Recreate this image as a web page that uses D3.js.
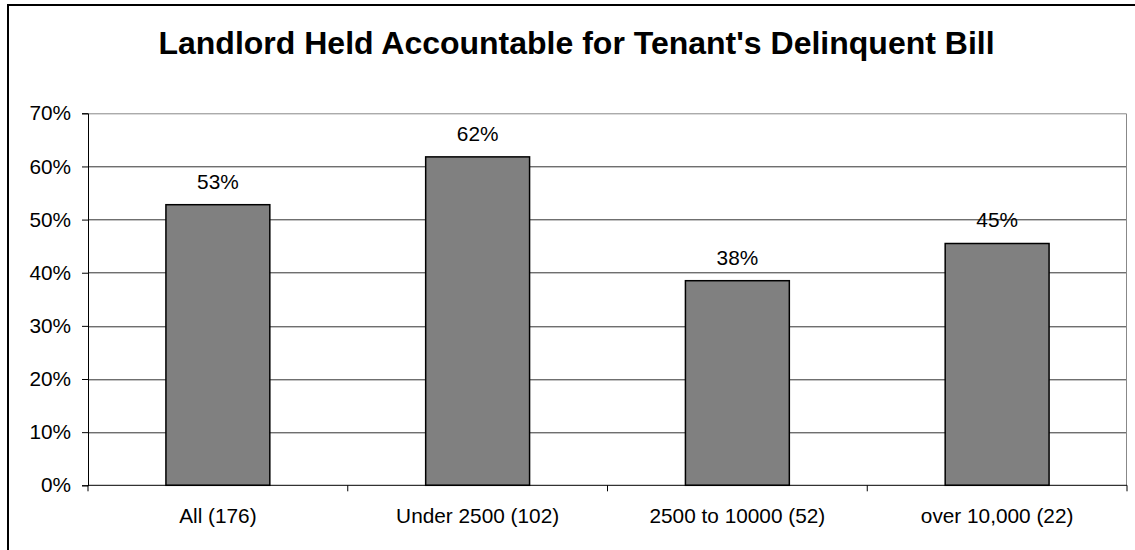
<!DOCTYPE html>
<html>
<head>
<meta charset="utf-8">
<script src="https://cdn.jsdelivr.net/npm/d3@7"></script>
<style>
  body { margin: 0; background: #fff; }
  text { font-family: Arial, "Liberation Sans", sans-serif; }
</style>
</head>
<body>
<div id="chart"></div>
<script>
// chart data
const categories = ["All (176)", "Under 2500 (102)", "2500 to 10000 (52)", "over 10,000 (22)"];
const values = [0.528, 0.618, 0.385, 0.455];
const barLabels = ["53%", "62%", "38%", "45%"];
const yTicks = [0, 0.1, 0.2, 0.3, 0.4, 0.5, 0.6, 0.7];
const title = "Landlord Held Accountable for Tenant's Delinquent Bill";

const W = 1135, H = 550;
const margin = {top: 113.3, right: 8, bottom: 64.7, left: 88};
const width = W - margin.left - margin.right;
const height = H - margin.top - margin.bottom;
const fs = 20.8;

const svg = d3.select("#chart")
  .append("svg")
    .attr("width", W)
    .attr("height", H);

// outer frame (right/bottom edges fall outside the picture)
svg.append("rect")
  .attr("x", 8).attr("y", 5)
  .attr("width", W).attr("height", H)
  .attr("fill", "none")
  .attr("stroke", "#000")
  .attr("stroke-width", 2);

svg.append("text")
  .attr("x", 576.5)
  .attr("y", 54)
  .attr("text-anchor", "middle")
  .attr("font-size", 32)
  .attr("font-weight", "bold")
  .text(title);

const g = svg.append("g")
  .attr("transform", `translate(${margin.left},${margin.top})`);

const x = d3.scaleBand()
  .domain(categories)
  .range([0, width])
  .paddingInner(0.6)
  .paddingOuter(0.3);

const xCat = d3.scaleBand()
  .domain(categories)
  .range([0, width])
  .padding(0);

const y = d3.scaleLinear()
  .domain([0, 0.7])
  .range([height, 0]);

// gridlines
g.selectAll(".grid")
  .data(yTicks.slice(1, -1))
  .enter()
  .append("line")
    .attr("x1", 0).attr("x2", width)
    .attr("y1", d => Math.round(y(d)) + 0.5)
    .attr("y2", d => Math.round(y(d)) + 0.5)
    .attr("stroke", "#333");

// plot border top/right
g.append("path")
  .attr("d", `M0,${Math.round(y(0.7)) + 0.5}H${width - 0.5}V${height}`)
  .attr("fill", "none")
  .attr("stroke", "#888");

// bars
g.selectAll(".bar")
  .data(values)
  .enter()
  .append("rect")
    .attr("x", (d, i) => x(categories[i]))
    .attr("y", d => y(d))
    .attr("width", x.bandwidth())
    .attr("height", d => height - y(d))
    .attr("fill", "#808080")
    .attr("stroke", "#000")
    .attr("stroke-width", 1.5);

g.selectAll(".lbl")
  .data(values)
  .enter()
  .append("text")
    .attr("x", (d, i) => x(categories[i]) + x.bandwidth() / 2)
    .attr("y", d => y(d) - 16)
    .attr("text-anchor", "middle")
    .attr("font-size", fs)
    .text((d, i) => barLabels[i]);

// y axis
const yAxis = g.append("g")
  .call(d3.axisLeft(y).tickValues(yTicks).tickFormat(d3.format(".0%")).tickSize(6).tickPadding(11));
yAxis.selectAll("text").attr("font-size", fs).attr("fill", "#000").attr("font-family", null);
yAxis.selectAll("line,path").attr("stroke", "#000");

// x axis: ticks at category boundaries
const bounds = categories.map(c => xCat(c)).concat([width]);
g.append("line")
  .attr("x1", 0).attr("x2", width)
  .attr("y1", height).attr("y2", height)
  .attr("stroke", "#000");
g.selectAll(".xtick")
  .data(bounds)
  .enter()
  .append("line")
    .attr("x1", d => d).attr("x2", d => d)
    .attr("y1", height).attr("y2", height + 6)
    .attr("stroke", "#000");
g.selectAll(".xlbl")
  .data(categories)
  .enter()
  .append("text")
    .attr("x", d => xCat(d) + xCat.bandwidth() / 2)
    .attr("y", height + 37.4)
    .attr("text-anchor", "middle")
    .attr("font-size", fs)
    .text(d => d);
</script>
</body>
</html>
